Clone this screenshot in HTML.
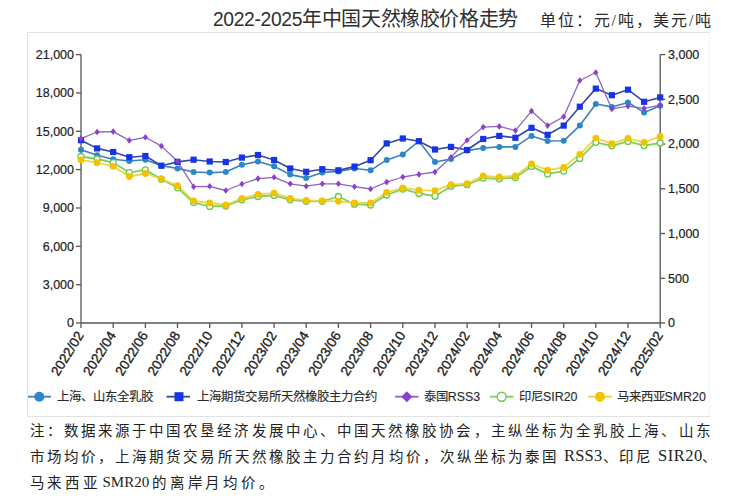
<!DOCTYPE html>
<html lang="zh-CN"><head><meta charset="utf-8"><style>
html,body{margin:0;padding:0;background:#fff;}
body{width:732px;height:500px;position:relative;overflow:hidden;}
.t{position:absolute;white-space:nowrap;color:#222;}
#title{left:213px;top:7px;font-family:"Liberation Sans",sans-serif;font-size:19.3px;line-height:24px;color:#2e2e2e;}
#unit{left:540px;top:10px;font-family:"Liberation Serif",serif;font-size:16px;letter-spacing:1.85px;line-height:22px;color:#2a2a2a;}
#box{position:absolute;left:27px;top:32px;width:681px;height:383px;border:1px solid #e2e2e5;border-right-color:#f5f5f7;}
.note{position:absolute;left:30px;font-family:"Liberation Serif",serif;font-size:14.5px;line-height:20px;color:#222;white-space:nowrap;}
svg{position:absolute;left:0;top:0;}
.lt{font-size:16.5px;letter-spacing:0.3px;}
</style></head><body>
<div id="box"></div>
<div class="t" id="title"><span style="letter-spacing:-0.35px">2022-2025</span><span style="font-size:20px;letter-spacing:-0.38px">年中国天然橡胶价格走势</span></div>
<div class="t" id="unit">单位：元/吨，美元/吨</div>
<svg width="732" height="500" viewBox="0 0 732 500">
<g font-family="Liberation Sans, sans-serif" font-size="12.5" fill="#222" stroke="#222" stroke-width="0.2" letter-spacing="0"><text x="74" y="327.3" text-anchor="end">0</text><text x="74" y="289.0" text-anchor="end">3,000</text><text x="74" y="250.6" text-anchor="end">6,000</text><text x="74" y="212.3" text-anchor="end">9,000</text><text x="74" y="173.9" text-anchor="end">12,000</text><text x="74" y="135.6" text-anchor="end">15,000</text><text x="74" y="97.2" text-anchor="end">18,000</text><text x="74" y="58.9" text-anchor="end">21,000</text><text x="668" y="327.3" text-anchor="start">0</text><text x="668" y="282.6" text-anchor="start">500</text><text x="668" y="237.8" text-anchor="start">1,000</text><text x="668" y="193.1" text-anchor="start">1,500</text><text x="668" y="148.4" text-anchor="start">2,000</text><text x="668" y="103.6" text-anchor="start">2,500</text><text x="668" y="58.9" text-anchor="start">3,000</text></g>
<g font-family="Liberation Sans, sans-serif" font-size="13.6" fill="#222" stroke="#222" stroke-width="0.35"><text transform="translate(84.2,335.2) rotate(-58)" text-anchor="end">2022/02</text><text transform="translate(116.4,335.2) rotate(-58)" text-anchor="end">2022/04</text><text transform="translate(148.6,335.2) rotate(-58)" text-anchor="end">2022/06</text><text transform="translate(180.7,335.2) rotate(-58)" text-anchor="end">2022/08</text><text transform="translate(212.9,335.2) rotate(-58)" text-anchor="end">2022/10</text><text transform="translate(245.1,335.2) rotate(-58)" text-anchor="end">2022/12</text><text transform="translate(277.3,335.2) rotate(-58)" text-anchor="end">2023/02</text><text transform="translate(309.4,335.2) rotate(-58)" text-anchor="end">2023/04</text><text transform="translate(341.6,335.2) rotate(-58)" text-anchor="end">2023/06</text><text transform="translate(373.8,335.2) rotate(-58)" text-anchor="end">2023/08</text><text transform="translate(406.0,335.2) rotate(-58)" text-anchor="end">2023/10</text><text transform="translate(438.2,335.2) rotate(-58)" text-anchor="end">2023/12</text><text transform="translate(470.3,335.2) rotate(-58)" text-anchor="end">2024/02</text><text transform="translate(502.5,335.2) rotate(-58)" text-anchor="end">2024/04</text><text transform="translate(534.7,335.2) rotate(-58)" text-anchor="end">2024/06</text><text transform="translate(566.9,335.2) rotate(-58)" text-anchor="end">2024/08</text><text transform="translate(599.0,335.2) rotate(-58)" text-anchor="end">2024/10</text><text transform="translate(631.2,335.2) rotate(-58)" text-anchor="end">2024/12</text><text transform="translate(663.4,335.2) rotate(-58)" text-anchor="end">2025/02</text></g>
<line x1="81.0" y1="54.6" x2="81.0" y2="323.0" stroke="#555" stroke-width="1.3"/><line x1="660.2" y1="54.6" x2="660.2" y2="323.0" stroke="#555" stroke-width="1.3"/><line x1="81.0" y1="323.0" x2="660.2" y2="323.0" stroke="#555" stroke-width="1.3"/><line x1="76.0" y1="323.0" x2="81.0" y2="323.0" stroke="#555" stroke-width="1.3"/><line x1="76.0" y1="284.7" x2="81.0" y2="284.7" stroke="#555" stroke-width="1.3"/><line x1="76.0" y1="246.3" x2="81.0" y2="246.3" stroke="#555" stroke-width="1.3"/><line x1="76.0" y1="208.0" x2="81.0" y2="208.0" stroke="#555" stroke-width="1.3"/><line x1="76.0" y1="169.6" x2="81.0" y2="169.6" stroke="#555" stroke-width="1.3"/><line x1="76.0" y1="131.3" x2="81.0" y2="131.3" stroke="#555" stroke-width="1.3"/><line x1="76.0" y1="92.9" x2="81.0" y2="92.9" stroke="#555" stroke-width="1.3"/><line x1="76.0" y1="54.6" x2="81.0" y2="54.6" stroke="#555" stroke-width="1.3"/><line x1="660.2" y1="323.0" x2="665.2" y2="323.0" stroke="#555" stroke-width="1.3"/><line x1="660.2" y1="278.3" x2="665.2" y2="278.3" stroke="#555" stroke-width="1.3"/><line x1="660.2" y1="233.5" x2="665.2" y2="233.5" stroke="#555" stroke-width="1.3"/><line x1="660.2" y1="188.8" x2="665.2" y2="188.8" stroke="#555" stroke-width="1.3"/><line x1="660.2" y1="144.1" x2="665.2" y2="144.1" stroke="#555" stroke-width="1.3"/><line x1="660.2" y1="99.3" x2="665.2" y2="99.3" stroke="#555" stroke-width="1.3"/><line x1="660.2" y1="54.6" x2="665.2" y2="54.6" stroke="#555" stroke-width="1.3"/><line x1="81.0" y1="323.0" x2="81.0" y2="328.0" stroke="#555" stroke-width="1.3"/><line x1="113.2" y1="323.0" x2="113.2" y2="328.0" stroke="#555" stroke-width="1.3"/><line x1="145.4" y1="323.0" x2="145.4" y2="328.0" stroke="#555" stroke-width="1.3"/><line x1="177.5" y1="323.0" x2="177.5" y2="328.0" stroke="#555" stroke-width="1.3"/><line x1="209.7" y1="323.0" x2="209.7" y2="328.0" stroke="#555" stroke-width="1.3"/><line x1="241.9" y1="323.0" x2="241.9" y2="328.0" stroke="#555" stroke-width="1.3"/><line x1="274.1" y1="323.0" x2="274.1" y2="328.0" stroke="#555" stroke-width="1.3"/><line x1="306.2" y1="323.0" x2="306.2" y2="328.0" stroke="#555" stroke-width="1.3"/><line x1="338.4" y1="323.0" x2="338.4" y2="328.0" stroke="#555" stroke-width="1.3"/><line x1="370.6" y1="323.0" x2="370.6" y2="328.0" stroke="#555" stroke-width="1.3"/><line x1="402.8" y1="323.0" x2="402.8" y2="328.0" stroke="#555" stroke-width="1.3"/><line x1="435.0" y1="323.0" x2="435.0" y2="328.0" stroke="#555" stroke-width="1.3"/><line x1="467.1" y1="323.0" x2="467.1" y2="328.0" stroke="#555" stroke-width="1.3"/><line x1="499.3" y1="323.0" x2="499.3" y2="328.0" stroke="#555" stroke-width="1.3"/><line x1="531.5" y1="323.0" x2="531.5" y2="328.0" stroke="#555" stroke-width="1.3"/><line x1="563.7" y1="323.0" x2="563.7" y2="328.0" stroke="#555" stroke-width="1.3"/><line x1="595.8" y1="323.0" x2="595.8" y2="328.0" stroke="#555" stroke-width="1.3"/><line x1="628.0" y1="323.0" x2="628.0" y2="328.0" stroke="#555" stroke-width="1.3"/><line x1="660.2" y1="323.0" x2="660.2" y2="328.0" stroke="#555" stroke-width="1.3"/>
<polyline points="81.0,149.7 97.1,155.3 113.2,159.3 129.3,161.0 145.4,159.8 161.4,165.7 177.5,168.4 193.6,172.0 209.7,172.6 225.8,172.0 241.9,164.8 258.0,161.5 274.1,166.3 290.2,174.6 306.2,177.9 322.3,172.5 338.4,171.4 354.5,168.5 370.6,170.3 386.7,159.9 402.8,154.4 418.9,141.2 435.0,162.0 451.0,159.0 467.1,150.6 483.2,148.0 499.3,146.9 515.4,146.9 531.5,135.9 547.6,141.0 563.7,140.8 579.8,125.6 595.8,104.0 611.9,106.9 628.0,102.5 644.1,112.4 660.2,105.8" fill="none" stroke="#3b82b9" stroke-width="1.6" stroke-linejoin="round"/><polyline points="81.0,140.2 97.1,148.4 113.2,152.0 129.3,157.2 145.4,156.0 161.4,165.7 177.5,161.9 193.6,159.7 209.7,161.5 225.8,162.0 241.9,157.6 258.0,155.0 274.1,160.0 290.2,168.5 306.2,171.8 322.3,169.2 338.4,170.3 354.5,166.6 370.6,160.2 386.7,143.4 402.8,138.5 418.9,141.2 435.0,149.5 451.0,146.9 467.1,150.0 483.2,139.0 499.3,135.9 515.4,137.8 531.5,127.8 547.6,134.8 563.7,125.6 579.8,106.7 595.8,88.6 611.9,95.2 628.0,89.7 644.1,101.8 660.2,97.4" fill="none" stroke="#36489f" stroke-width="1.6" stroke-linejoin="round"/><polyline points="81.0,138.6 97.1,132.0 113.2,131.6 129.3,140.4 145.4,137.3 161.4,146.1 177.5,161.3 193.6,186.7 209.7,186.3 225.8,190.5 241.9,184.0 258.0,178.6 274.1,177.3 290.2,183.8 306.2,186.2 322.3,183.8 338.4,183.8 354.5,186.7 370.6,189.0 386.7,182.1 402.8,177.0 418.9,174.4 435.0,172.0 451.0,157.2 467.1,140.3 483.2,127.1 499.3,126.4 515.4,130.6 531.5,111.1 547.6,125.6 563.7,116.8 579.8,80.5 595.8,72.5 611.9,108.9 628.0,106.2 644.1,108.4 660.2,105.1" fill="none" stroke="#9064c0" stroke-width="1.3" stroke-linejoin="round"/><polyline points="81.0,156.5 97.1,159.0 113.2,162.7 129.3,172.6 145.4,169.9 161.4,179.2 177.5,187.8 193.6,202.6 209.7,206.4 225.8,206.0 241.9,199.8 258.0,196.5 274.1,195.4 290.2,199.8 306.2,201.3 322.3,201.3 338.4,196.5 354.5,204.2 370.6,205.0 386.7,195.0 402.8,189.1 418.9,193.5 435.0,196.2 451.0,186.3 467.1,184.7 483.2,178.1 499.3,178.8 515.4,177.5 531.5,166.4 547.6,173.9 563.7,171.1 579.8,158.4 595.8,142.3 611.9,145.8 628.0,141.4 644.1,145.6 660.2,143.0" fill="none" stroke="#7fd05a" stroke-width="1.8" stroke-linejoin="round"/><polyline points="81.0,159.8 97.1,162.7 113.2,166.3 129.3,176.5 145.4,173.5 161.4,179.0 177.5,185.7 193.6,200.8 209.7,203.0 225.8,205.0 241.9,198.3 258.0,194.3 274.1,193.2 290.2,198.3 306.2,200.4 322.3,200.9 338.4,201.3 354.5,203.0 370.6,203.0 386.7,192.4 402.8,188.0 418.9,190.2 435.0,190.7 451.0,184.7 467.1,183.6 483.2,175.9 499.3,177.0 515.4,175.8 531.5,164.0 547.6,170.2 563.7,167.4 579.8,154.3 595.8,138.1 611.9,143.7 628.0,138.4 644.1,142.3 660.2,136.5" fill="none" stroke="#f0d448" stroke-width="1.8" stroke-linejoin="round"/>
<circle cx="81.0" cy="149.7" r="3.0" fill="#2a88c9" stroke="none" stroke-width="0"/><circle cx="97.1" cy="155.3" r="3.0" fill="#2a88c9" stroke="none" stroke-width="0"/><circle cx="113.2" cy="159.3" r="3.0" fill="#2a88c9" stroke="none" stroke-width="0"/><circle cx="129.3" cy="161.0" r="3.0" fill="#2a88c9" stroke="none" stroke-width="0"/><circle cx="145.4" cy="159.8" r="3.0" fill="#2a88c9" stroke="none" stroke-width="0"/><circle cx="161.4" cy="165.7" r="3.0" fill="#2a88c9" stroke="none" stroke-width="0"/><circle cx="177.5" cy="168.4" r="3.0" fill="#2a88c9" stroke="none" stroke-width="0"/><circle cx="193.6" cy="172.0" r="3.0" fill="#2a88c9" stroke="none" stroke-width="0"/><circle cx="209.7" cy="172.6" r="3.0" fill="#2a88c9" stroke="none" stroke-width="0"/><circle cx="225.8" cy="172.0" r="3.0" fill="#2a88c9" stroke="none" stroke-width="0"/><circle cx="241.9" cy="164.8" r="3.0" fill="#2a88c9" stroke="none" stroke-width="0"/><circle cx="258.0" cy="161.5" r="3.0" fill="#2a88c9" stroke="none" stroke-width="0"/><circle cx="274.1" cy="166.3" r="3.0" fill="#2a88c9" stroke="none" stroke-width="0"/><circle cx="290.2" cy="174.6" r="3.0" fill="#2a88c9" stroke="none" stroke-width="0"/><circle cx="306.2" cy="177.9" r="3.0" fill="#2a88c9" stroke="none" stroke-width="0"/><circle cx="322.3" cy="172.5" r="3.0" fill="#2a88c9" stroke="none" stroke-width="0"/><circle cx="338.4" cy="171.4" r="3.0" fill="#2a88c9" stroke="none" stroke-width="0"/><circle cx="354.5" cy="168.5" r="3.0" fill="#2a88c9" stroke="none" stroke-width="0"/><circle cx="370.6" cy="170.3" r="3.0" fill="#2a88c9" stroke="none" stroke-width="0"/><circle cx="386.7" cy="159.9" r="3.0" fill="#2a88c9" stroke="none" stroke-width="0"/><circle cx="402.8" cy="154.4" r="3.0" fill="#2a88c9" stroke="none" stroke-width="0"/><circle cx="418.9" cy="141.2" r="3.0" fill="#2a88c9" stroke="none" stroke-width="0"/><circle cx="435.0" cy="162.0" r="3.0" fill="#2a88c9" stroke="none" stroke-width="0"/><circle cx="451.0" cy="159.0" r="3.0" fill="#2a88c9" stroke="none" stroke-width="0"/><circle cx="467.1" cy="150.6" r="3.0" fill="#2a88c9" stroke="none" stroke-width="0"/><circle cx="483.2" cy="148.0" r="3.0" fill="#2a88c9" stroke="none" stroke-width="0"/><circle cx="499.3" cy="146.9" r="3.0" fill="#2a88c9" stroke="none" stroke-width="0"/><circle cx="515.4" cy="146.9" r="3.0" fill="#2a88c9" stroke="none" stroke-width="0"/><circle cx="531.5" cy="135.9" r="3.0" fill="#2a88c9" stroke="none" stroke-width="0"/><circle cx="547.6" cy="141.0" r="3.0" fill="#2a88c9" stroke="none" stroke-width="0"/><circle cx="563.7" cy="140.8" r="3.0" fill="#2a88c9" stroke="none" stroke-width="0"/><circle cx="579.8" cy="125.6" r="3.0" fill="#2a88c9" stroke="none" stroke-width="0"/><circle cx="595.8" cy="104.0" r="3.0" fill="#2a88c9" stroke="none" stroke-width="0"/><circle cx="611.9" cy="106.9" r="3.0" fill="#2a88c9" stroke="none" stroke-width="0"/><circle cx="628.0" cy="102.5" r="3.0" fill="#2a88c9" stroke="none" stroke-width="0"/><circle cx="644.1" cy="112.4" r="3.0" fill="#2a88c9" stroke="none" stroke-width="0"/><circle cx="660.2" cy="105.8" r="3.0" fill="#2a88c9" stroke="none" stroke-width="0"/><rect x="77.9" y="137.1" width="6.2" height="6.2" fill="#1633e6"/><rect x="94.0" y="145.3" width="6.2" height="6.2" fill="#1633e6"/><rect x="110.1" y="148.9" width="6.2" height="6.2" fill="#1633e6"/><rect x="126.2" y="154.1" width="6.2" height="6.2" fill="#1633e6"/><rect x="142.3" y="152.9" width="6.2" height="6.2" fill="#1633e6"/><rect x="158.3" y="162.6" width="6.2" height="6.2" fill="#1633e6"/><rect x="174.4" y="158.8" width="6.2" height="6.2" fill="#1633e6"/><rect x="190.5" y="156.6" width="6.2" height="6.2" fill="#1633e6"/><rect x="206.6" y="158.4" width="6.2" height="6.2" fill="#1633e6"/><rect x="222.7" y="158.9" width="6.2" height="6.2" fill="#1633e6"/><rect x="238.8" y="154.5" width="6.2" height="6.2" fill="#1633e6"/><rect x="254.9" y="151.9" width="6.2" height="6.2" fill="#1633e6"/><rect x="271.0" y="156.9" width="6.2" height="6.2" fill="#1633e6"/><rect x="287.1" y="165.4" width="6.2" height="6.2" fill="#1633e6"/><rect x="303.1" y="168.7" width="6.2" height="6.2" fill="#1633e6"/><rect x="319.2" y="166.1" width="6.2" height="6.2" fill="#1633e6"/><rect x="335.3" y="167.2" width="6.2" height="6.2" fill="#1633e6"/><rect x="351.4" y="163.5" width="6.2" height="6.2" fill="#1633e6"/><rect x="367.5" y="157.1" width="6.2" height="6.2" fill="#1633e6"/><rect x="383.6" y="140.3" width="6.2" height="6.2" fill="#1633e6"/><rect x="399.7" y="135.4" width="6.2" height="6.2" fill="#1633e6"/><rect x="415.8" y="138.1" width="6.2" height="6.2" fill="#1633e6"/><rect x="431.9" y="146.4" width="6.2" height="6.2" fill="#1633e6"/><rect x="447.9" y="143.8" width="6.2" height="6.2" fill="#1633e6"/><rect x="464.0" y="146.9" width="6.2" height="6.2" fill="#1633e6"/><rect x="480.1" y="135.9" width="6.2" height="6.2" fill="#1633e6"/><rect x="496.2" y="132.8" width="6.2" height="6.2" fill="#1633e6"/><rect x="512.3" y="134.7" width="6.2" height="6.2" fill="#1633e6"/><rect x="528.4" y="124.7" width="6.2" height="6.2" fill="#1633e6"/><rect x="544.5" y="131.7" width="6.2" height="6.2" fill="#1633e6"/><rect x="560.6" y="122.5" width="6.2" height="6.2" fill="#1633e6"/><rect x="576.7" y="103.6" width="6.2" height="6.2" fill="#1633e6"/><rect x="592.7" y="85.5" width="6.2" height="6.2" fill="#1633e6"/><rect x="608.8" y="92.1" width="6.2" height="6.2" fill="#1633e6"/><rect x="624.9" y="86.6" width="6.2" height="6.2" fill="#1633e6"/><rect x="641.0" y="98.7" width="6.2" height="6.2" fill="#1633e6"/><rect x="657.1" y="94.3" width="6.2" height="6.2" fill="#1633e6"/><path d="M81.0 135.3L83.6 138.6L81.0 141.9L78.4 138.6Z" fill="#8e3fcc"/><path d="M97.1 128.7L99.7 132.0L97.1 135.3L94.5 132.0Z" fill="#8e3fcc"/><path d="M113.2 128.3L115.8 131.6L113.2 134.9L110.6 131.6Z" fill="#8e3fcc"/><path d="M129.3 137.1L131.9 140.4L129.3 143.7L126.7 140.4Z" fill="#8e3fcc"/><path d="M145.4 134.0L148.0 137.3L145.4 140.6L142.8 137.3Z" fill="#8e3fcc"/><path d="M161.4 142.8L164.0 146.1L161.4 149.4L158.8 146.1Z" fill="#8e3fcc"/><path d="M177.5 158.0L180.1 161.3L177.5 164.6L174.9 161.3Z" fill="#8e3fcc"/><path d="M193.6 183.4L196.2 186.7L193.6 190.0L191.0 186.7Z" fill="#8e3fcc"/><path d="M209.7 183.0L212.3 186.3L209.7 189.6L207.1 186.3Z" fill="#8e3fcc"/><path d="M225.8 187.2L228.4 190.5L225.8 193.8L223.2 190.5Z" fill="#8e3fcc"/><path d="M241.9 180.7L244.5 184.0L241.9 187.3L239.3 184.0Z" fill="#8e3fcc"/><path d="M258.0 175.3L260.6 178.6L258.0 181.9L255.4 178.6Z" fill="#8e3fcc"/><path d="M274.1 174.0L276.7 177.3L274.1 180.6L271.5 177.3Z" fill="#8e3fcc"/><path d="M290.2 180.5L292.8 183.8L290.2 187.1L287.6 183.8Z" fill="#8e3fcc"/><path d="M306.2 182.9L308.8 186.2L306.2 189.5L303.6 186.2Z" fill="#8e3fcc"/><path d="M322.3 180.5L324.9 183.8L322.3 187.1L319.7 183.8Z" fill="#8e3fcc"/><path d="M338.4 180.5L341.0 183.8L338.4 187.1L335.8 183.8Z" fill="#8e3fcc"/><path d="M354.5 183.4L357.1 186.7L354.5 190.0L351.9 186.7Z" fill="#8e3fcc"/><path d="M370.6 185.7L373.2 189.0L370.6 192.3L368.0 189.0Z" fill="#8e3fcc"/><path d="M386.7 178.8L389.3 182.1L386.7 185.4L384.1 182.1Z" fill="#8e3fcc"/><path d="M402.8 173.7L405.4 177.0L402.8 180.3L400.2 177.0Z" fill="#8e3fcc"/><path d="M418.9 171.1L421.5 174.4L418.9 177.7L416.3 174.4Z" fill="#8e3fcc"/><path d="M435.0 168.7L437.6 172.0L435.0 175.3L432.4 172.0Z" fill="#8e3fcc"/><path d="M451.0 153.9L453.6 157.2L451.0 160.5L448.4 157.2Z" fill="#8e3fcc"/><path d="M467.1 137.0L469.7 140.3L467.1 143.6L464.5 140.3Z" fill="#8e3fcc"/><path d="M483.2 123.8L485.8 127.1L483.2 130.4L480.6 127.1Z" fill="#8e3fcc"/><path d="M499.3 123.1L501.9 126.4L499.3 129.7L496.7 126.4Z" fill="#8e3fcc"/><path d="M515.4 127.3L518.0 130.6L515.4 133.9L512.8 130.6Z" fill="#8e3fcc"/><path d="M531.5 107.8L534.1 111.1L531.5 114.4L528.9 111.1Z" fill="#8e3fcc"/><path d="M547.6 122.3L550.2 125.6L547.6 128.9L545.0 125.6Z" fill="#8e3fcc"/><path d="M563.7 113.5L566.3 116.8L563.7 120.1L561.1 116.8Z" fill="#8e3fcc"/><path d="M579.8 77.2L582.4 80.5L579.8 83.8L577.2 80.5Z" fill="#8e3fcc"/><path d="M595.8 69.2L598.4 72.5L595.8 75.8L593.2 72.5Z" fill="#8e3fcc"/><path d="M611.9 105.6L614.5 108.9L611.9 112.2L609.3 108.9Z" fill="#8e3fcc"/><path d="M628.0 102.9L630.6 106.2L628.0 109.5L625.4 106.2Z" fill="#8e3fcc"/><path d="M644.1 105.1L646.7 108.4L644.1 111.7L641.5 108.4Z" fill="#8e3fcc"/><path d="M660.2 101.8L662.8 105.1L660.2 108.4L657.6 105.1Z" fill="#8e3fcc"/><circle cx="81.0" cy="156.5" r="3.0" fill="#fff" stroke="#6cc84e" stroke-width="1.3"/><circle cx="97.1" cy="159.0" r="3.0" fill="#fff" stroke="#6cc84e" stroke-width="1.3"/><circle cx="113.2" cy="162.7" r="3.0" fill="#fff" stroke="#6cc84e" stroke-width="1.3"/><circle cx="129.3" cy="172.6" r="3.0" fill="#fff" stroke="#6cc84e" stroke-width="1.3"/><circle cx="145.4" cy="169.9" r="3.0" fill="#fff" stroke="#6cc84e" stroke-width="1.3"/><circle cx="161.4" cy="179.2" r="3.0" fill="#fff" stroke="#6cc84e" stroke-width="1.3"/><circle cx="177.5" cy="187.8" r="3.0" fill="#fff" stroke="#6cc84e" stroke-width="1.3"/><circle cx="193.6" cy="202.6" r="3.0" fill="#fff" stroke="#6cc84e" stroke-width="1.3"/><circle cx="209.7" cy="206.4" r="3.0" fill="#fff" stroke="#6cc84e" stroke-width="1.3"/><circle cx="225.8" cy="206.0" r="3.0" fill="#fff" stroke="#6cc84e" stroke-width="1.3"/><circle cx="241.9" cy="199.8" r="3.0" fill="#fff" stroke="#6cc84e" stroke-width="1.3"/><circle cx="258.0" cy="196.5" r="3.0" fill="#fff" stroke="#6cc84e" stroke-width="1.3"/><circle cx="274.1" cy="195.4" r="3.0" fill="#fff" stroke="#6cc84e" stroke-width="1.3"/><circle cx="290.2" cy="199.8" r="3.0" fill="#fff" stroke="#6cc84e" stroke-width="1.3"/><circle cx="306.2" cy="201.3" r="3.0" fill="#fff" stroke="#6cc84e" stroke-width="1.3"/><circle cx="322.3" cy="201.3" r="3.0" fill="#fff" stroke="#6cc84e" stroke-width="1.3"/><circle cx="338.4" cy="196.5" r="3.0" fill="#fff" stroke="#6cc84e" stroke-width="1.3"/><circle cx="354.5" cy="204.2" r="3.0" fill="#fff" stroke="#6cc84e" stroke-width="1.3"/><circle cx="370.6" cy="205.0" r="3.0" fill="#fff" stroke="#6cc84e" stroke-width="1.3"/><circle cx="386.7" cy="195.0" r="3.0" fill="#fff" stroke="#6cc84e" stroke-width="1.3"/><circle cx="402.8" cy="189.1" r="3.0" fill="#fff" stroke="#6cc84e" stroke-width="1.3"/><circle cx="418.9" cy="193.5" r="3.0" fill="#fff" stroke="#6cc84e" stroke-width="1.3"/><circle cx="435.0" cy="196.2" r="3.0" fill="#fff" stroke="#6cc84e" stroke-width="1.3"/><circle cx="451.0" cy="186.3" r="3.0" fill="#fff" stroke="#6cc84e" stroke-width="1.3"/><circle cx="467.1" cy="184.7" r="3.0" fill="#fff" stroke="#6cc84e" stroke-width="1.3"/><circle cx="483.2" cy="178.1" r="3.0" fill="#fff" stroke="#6cc84e" stroke-width="1.3"/><circle cx="499.3" cy="178.8" r="3.0" fill="#fff" stroke="#6cc84e" stroke-width="1.3"/><circle cx="515.4" cy="177.5" r="3.0" fill="#fff" stroke="#6cc84e" stroke-width="1.3"/><circle cx="531.5" cy="166.4" r="3.0" fill="#fff" stroke="#6cc84e" stroke-width="1.3"/><circle cx="547.6" cy="173.9" r="3.0" fill="#fff" stroke="#6cc84e" stroke-width="1.3"/><circle cx="563.7" cy="171.1" r="3.0" fill="#fff" stroke="#6cc84e" stroke-width="1.3"/><circle cx="579.8" cy="158.4" r="3.0" fill="#fff" stroke="#6cc84e" stroke-width="1.3"/><circle cx="595.8" cy="142.3" r="3.0" fill="#fff" stroke="#6cc84e" stroke-width="1.3"/><circle cx="611.9" cy="145.8" r="3.0" fill="#fff" stroke="#6cc84e" stroke-width="1.3"/><circle cx="628.0" cy="141.4" r="3.0" fill="#fff" stroke="#6cc84e" stroke-width="1.3"/><circle cx="644.1" cy="145.6" r="3.0" fill="#fff" stroke="#6cc84e" stroke-width="1.3"/><circle cx="660.2" cy="143.0" r="3.0" fill="#fff" stroke="#6cc84e" stroke-width="1.3"/><circle cx="81.0" cy="159.8" r="3.4" fill="#f2c400" stroke="none" stroke-width="0"/><circle cx="97.1" cy="162.7" r="3.4" fill="#f2c400" stroke="none" stroke-width="0"/><circle cx="113.2" cy="166.3" r="3.4" fill="#f2c400" stroke="none" stroke-width="0"/><circle cx="129.3" cy="176.5" r="3.4" fill="#f2c400" stroke="none" stroke-width="0"/><circle cx="145.4" cy="173.5" r="3.4" fill="#f2c400" stroke="none" stroke-width="0"/><circle cx="161.4" cy="179.0" r="3.4" fill="#f2c400" stroke="none" stroke-width="0"/><circle cx="177.5" cy="185.7" r="3.4" fill="#f2c400" stroke="none" stroke-width="0"/><circle cx="193.6" cy="200.8" r="3.4" fill="#f2c400" stroke="none" stroke-width="0"/><circle cx="209.7" cy="203.0" r="3.4" fill="#f2c400" stroke="none" stroke-width="0"/><circle cx="225.8" cy="205.0" r="3.4" fill="#f2c400" stroke="none" stroke-width="0"/><circle cx="241.9" cy="198.3" r="3.4" fill="#f2c400" stroke="none" stroke-width="0"/><circle cx="258.0" cy="194.3" r="3.4" fill="#f2c400" stroke="none" stroke-width="0"/><circle cx="274.1" cy="193.2" r="3.4" fill="#f2c400" stroke="none" stroke-width="0"/><circle cx="290.2" cy="198.3" r="3.4" fill="#f2c400" stroke="none" stroke-width="0"/><circle cx="306.2" cy="200.4" r="3.4" fill="#f2c400" stroke="none" stroke-width="0"/><circle cx="322.3" cy="200.9" r="3.4" fill="#f2c400" stroke="none" stroke-width="0"/><circle cx="338.4" cy="201.3" r="3.4" fill="#f2c400" stroke="none" stroke-width="0"/><circle cx="354.5" cy="203.0" r="3.4" fill="#f2c400" stroke="none" stroke-width="0"/><circle cx="370.6" cy="203.0" r="3.4" fill="#f2c400" stroke="none" stroke-width="0"/><circle cx="386.7" cy="192.4" r="3.4" fill="#f2c400" stroke="none" stroke-width="0"/><circle cx="402.8" cy="188.0" r="3.4" fill="#f2c400" stroke="none" stroke-width="0"/><circle cx="418.9" cy="190.2" r="3.4" fill="#f2c400" stroke="none" stroke-width="0"/><circle cx="435.0" cy="190.7" r="3.4" fill="#f2c400" stroke="none" stroke-width="0"/><circle cx="451.0" cy="184.7" r="3.4" fill="#f2c400" stroke="none" stroke-width="0"/><circle cx="467.1" cy="183.6" r="3.4" fill="#f2c400" stroke="none" stroke-width="0"/><circle cx="483.2" cy="175.9" r="3.4" fill="#f2c400" stroke="none" stroke-width="0"/><circle cx="499.3" cy="177.0" r="3.4" fill="#f2c400" stroke="none" stroke-width="0"/><circle cx="515.4" cy="175.8" r="3.4" fill="#f2c400" stroke="none" stroke-width="0"/><circle cx="531.5" cy="164.0" r="3.4" fill="#f2c400" stroke="none" stroke-width="0"/><circle cx="547.6" cy="170.2" r="3.4" fill="#f2c400" stroke="none" stroke-width="0"/><circle cx="563.7" cy="167.4" r="3.4" fill="#f2c400" stroke="none" stroke-width="0"/><circle cx="579.8" cy="154.3" r="3.4" fill="#f2c400" stroke="none" stroke-width="0"/><circle cx="595.8" cy="138.1" r="3.4" fill="#f2c400" stroke="none" stroke-width="0"/><circle cx="611.9" cy="143.7" r="3.4" fill="#f2c400" stroke="none" stroke-width="0"/><circle cx="628.0" cy="138.4" r="3.4" fill="#f2c400" stroke="none" stroke-width="0"/><circle cx="644.1" cy="142.3" r="3.4" fill="#f2c400" stroke="none" stroke-width="0"/><circle cx="660.2" cy="136.5" r="3.4" fill="#f2c400" stroke="none" stroke-width="0"/>
<line x1="28" y1="396.7" x2="51" y2="396.7" stroke="#3b82b9" stroke-width="1.8"/><circle cx="39.3" cy="396.7" r="5" fill="#2a88c9"/><line x1="166.5" y1="396.7" x2="190" y2="396.7" stroke="#36489f" stroke-width="1.8"/><rect x="174.5" y="392.2" width="9" height="9" fill="#1633e6"/><line x1="395" y1="396.7" x2="418.5" y2="396.7" stroke="#9064c0" stroke-width="1.8"/><path d="M406.8 391.2L412.3 396.7L406.8 402.2L401.3 396.7Z" fill="#8e3fcc"/><line x1="490" y1="396.7" x2="513.5" y2="396.7" stroke="#7fd05a" stroke-width="1.8"/><circle cx="501.7" cy="396.7" r="4.5" fill="#fff" stroke="#6cc84e" stroke-width="1.4"/><line x1="588" y1="396.7" x2="612" y2="396.7" stroke="#f0d448" stroke-width="1.8"/><circle cx="600" cy="396.7" r="5" fill="#f2c400"/>
<g font-family="Liberation Sans, sans-serif" font-size="12.4" fill="#2a2a2a" stroke="#2a2a2a" stroke-width="0.12"><text x="57.4" y="401.3">上海、山东全乳胶</text><text x="197" y="401.3">上海期货交易所天然橡胶主力合约</text><text x="423.8" y="401.3">泰国RSS3</text><text x="519" y="401.3">印尼SIR20</text><text x="616.5" y="401.3">马来西亚SMR20</text></g>
</svg>
<div class="note" style="top:421px;left:29.5px;letter-spacing:3.08px">注：数据来源于中国农垦经济发展中心、中国天然橡胶协会，主纵坐标为全乳胶上海、山东</div>
<div class="note" style="top:447px;left:29.5px;letter-spacing:3.1px">市场均价，上海期货交易所天然橡胶主力合约月均价，次纵坐标为泰国</div>
<div class="note lt" style="top:446px;left:564px;letter-spacing:0.2px">RSS3</div>
<div class="note" style="top:447px;left:602.5px;letter-spacing:2.6px">、印尼</div>
<div class="note lt" style="top:446px;left:658px;letter-spacing:0.5px">SIR20</div>
<div class="note" style="top:447px;left:702px">、</div>
<div class="note" style="top:472.5px;left:29.5px;letter-spacing:3.8px">马来西亚</div>
<div class="note lt" style="top:472px;left:102.5px;letter-spacing:0px;font-size:15px">SMR20</div>
<div class="note" style="top:472.5px;left:152px;letter-spacing:3.76px">的离岸月均价。</div>
</body></html>
